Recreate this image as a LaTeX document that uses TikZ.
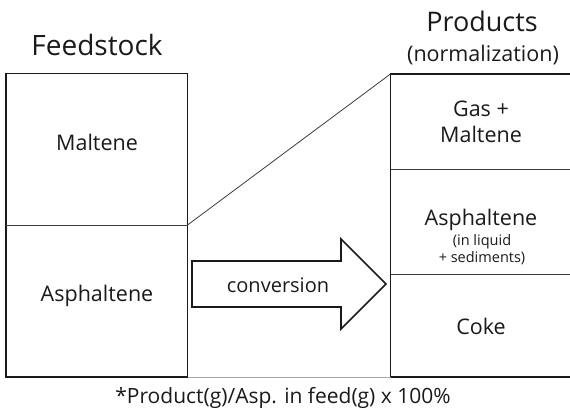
\documentclass[tikz,border=0pt]{standalone}
\usepackage{fontspec}
\setmainfont{Open Sans}
\usetikzlibrary{positioning}
\definecolor{ink}{HTML}{1A1A1A}

\begin{document}
\begin{tikzpicture}[x=1pt,y=-1pt,font=\fontsize{21.5}{25}\selectfont,line join=miter]
  \tikzset{frame/.style={draw=ink,line width=1.7pt,inner sep=0pt,outer sep=0pt},
    divider/.style={draw=ink!85,line width=0.8pt},
    label/.style={align=center,text=ink,inner sep=0pt}}
  \useasboundingbox (0,0) rectangle (570,412);
  % boxes
  \node[frame,minimum width=181.5pt,minimum height=303.5pt] (feed) at (96.75,225.25) {};
  \node[frame,minimum width=184pt,minimum height=303pt] (prod) at (482.5,225.5) {};
  \coordinate (feedcut) at (187.5,225);
  \draw[divider] (feed.west |- feedcut) -- (feedcut);
  \foreach \y in {169,274}{\draw[divider] (prod.west |- 0,\y) -- (prod.east |- 0,\y);}
  \draw[divider] (feedcut) -- (prod.north west);
  \draw[gray!70,line width=0.7pt] (feed.south east) -- (prod.south west);
  % conversion arrow
  \draw[ink,line width=1.6pt] (192,261) -- (341,261) -- (341,239) -- (386,284) -- (341,329) -- (341,307) -- (192,307) -- cycle;
  \node[label,font=\fontsize{20}{24}\selectfont] (conv) at (278,285) {conversion};
  % titles
  \node[label,font=\fontsize{28}{32}\selectfont] (feedtitle) at (97,45) {Feedstock};
  \node[label,font=\fontsize{27}{30}\selectfont] (prodtitle) at (482,21) {Products};
  \node[label,font=\fontsize{21.5}{25}\selectfont] (norm) at (483,55) {(normalization)};
  % cell labels
  \node[label] (malt) at (97,142) {Maltene};
  \node[label] (asph) at (97,296) {Asphaltene};
  \node[label,font=\fontsize{21.5}{26}\selectfont] (gas) at (481,122) {Gas +\\Maltene};
  \node[label] (asphp) at (481,220) {Asphaltene};
  \node[label,font=\fontsize{14.5}{17}\selectfont] (sedi) at (482,250) {(in liquid\\+ sediments)};
  \node[label] (coke) at (481,326) {Coke};
  \node[label,font=\fontsize{21}{24}\selectfont] (note) at (283,398) {*Product(g)/Asp. in feed(g) x 100\%};
\end{tikzpicture}
\end{document}
